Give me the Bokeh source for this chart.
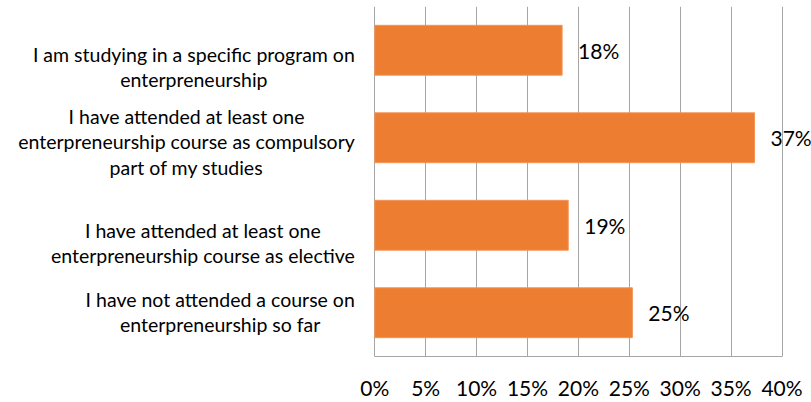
from bokeh.plotting import figure
from bokeh.models import Range1d, FixedTicker, ColumnDataSource
from bokeh.embed import file_html
from bokeh.resources import INLINE
from bokeh.core.properties import value

# ---- data ----
categories = [
    "I am studying in a specific program on\nenterpreneurship",
    "I have attended at least one\nenterpreneurship course as compulsory\npart of my studies",
    "I have attended at least one\nenterpreneurship course as elective",
    "I have not attended a course on\nenterpreneurship so far",
]
values = [18.4, 37.3, 19.0, 25.3]
value_labels = ["18%", "37%", "19%", "25%"]
tick_values = [0, 5, 10, 15, 20, 25, 30, 35, 40]
tick_labels = ["0%", "5%", "10%", "15%", "20%", "25%", "30%", "35%", "40%"]

# ---- layout constants ----
W, H = 811, 402
BORDER_L, BORDER_R, BORDER_T, BORDER_B = 2, 0, 6, 44
PX_PER_UNIT = 10.18
ZERO_PX = 374.3 - BORDER_L      # pixel of 0% from frame left
frame_w = W - BORDER_L - BORDER_R
x_start = -ZERO_PX / PX_PER_UNIT
x_end = x_start + frame_w / PX_PER_UNIT
label_dy = [17, 4, 18, -1]       # wrapped label block offsets (px, down)

n = len(categories)
ypos = [n - i - 0.5 for i in range(n)]

src = ColumnDataSource(dict(
    y=ypos, v=values, vl=value_labels, cat=categories,
    zero=[0] * n, dy=label_dy,
))

p = figure(width=W, height=H, output_backend="svg", toolbar_location=None,
           x_range=Range1d(x_start, x_end), y_range=Range1d(0, n),
           min_border_left=BORDER_L, min_border_right=BORDER_R,
           min_border_top=BORDER_T, min_border_bottom=BORDER_B)
p.outline_line_color = None
p.background_fill_color = "white"
p.border_fill_color = "white"

p.hbar(y="y", left=0, right="v", height=0.57, source=src,
       fill_color="#ED7D31", line_color="#F29458", line_width=1)

grid_color = "#a6a6a6"
p.xgrid.ticker = FixedTicker(ticks=tick_values)
p.xgrid.grid_line_color = grid_color
p.ygrid.visible = False

ax = p.xaxis[0]
ax.ticker = FixedTicker(ticks=tick_values)
ax.major_label_overrides = {t: l for t, l in zip(tick_values, tick_labels)}
ax.bounds = (tick_values[0], tick_values[-1])
ax.axis_line_color = grid_color
ax.major_tick_line_color = None
ax.minor_tick_line_color = None
ax.major_tick_out = 0
ax.major_tick_in = 0
ax.minor_tick_out = 0
ax.minor_tick_in = 0
ax.major_label_standoff = 18
ax.major_label_text_font = "Lato"
ax.major_label_text_font_size = "21px"
ax.major_label_text_color = "#000000"
p.yaxis.visible = False

p.text(x="zero", y="y", text="cat", source=src, anchor="center_right",
       text_align="center", x_offset=-20, y_offset="dy",
       text_font=value("Lato"), text_font_size="19.5px",
       text_line_height=1.1, text_color="#000000")

p.text(x="v", y="y", text="vl", source=src, x_offset=16,
       text_align="left", text_baseline="middle",
       text_font=value("Lato"), text_font_size="21px", text_color="#000000")

open("out.html", "w").write(file_html(p, INLINE))
